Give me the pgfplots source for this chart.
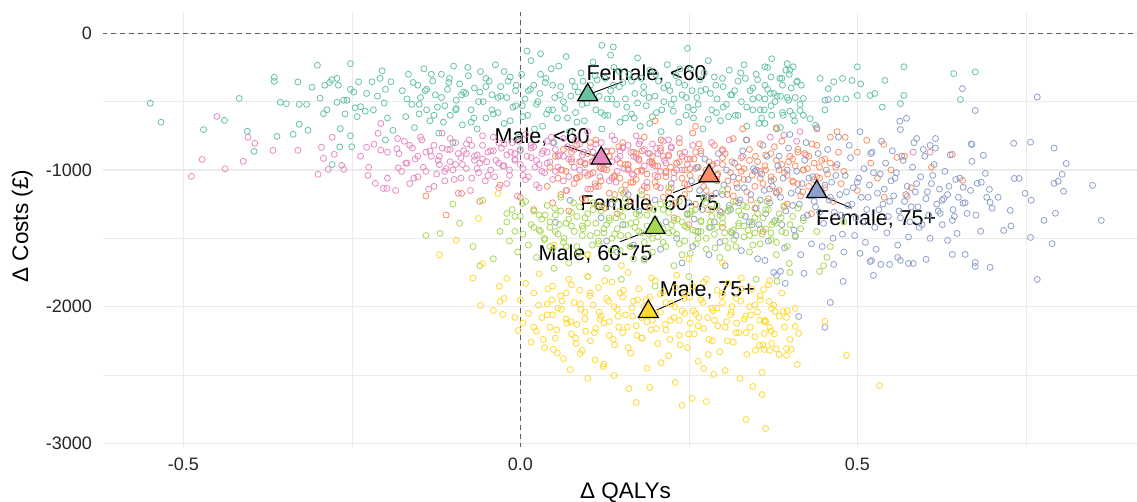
\documentclass[border=0pt]{standalone}
\usepackage{pgfplots}
\pgfplotsset{compat=1.18}
\usepackage{fontspec}
\setmainfont{Liberation Sans}
\definecolor{cA}{RGB}{102,194,165}
\definecolor{cB}{RGB}{252,141,98}
\definecolor{cC}{RGB}{141,160,203}
\definecolor{cD}{RGB}{231,138,195}
\definecolor{cE}{RGB}{166,216,84}
\definecolor{cF}{RGB}{255,217,47}
\definecolor{gridc}{RGB}{235,235,235}
\definecolor{dashc}{RGB}{95,95,95}
\begin{document}
\begin{tikzpicture}
\path[use as bounding box] (-103pt,-55pt) rectangle (1034pt,447pt);
\begin{axis}[at={(0,0)}, anchor=south west, scale only axis, width=1034pt, height=434pt,
 xmin=-0.6191, xmax=0.915, ymin=-3027, ymax=148.5,
 xtick={-0.5,0,0.5}, xticklabels={\mbox{-0.5},\mbox{0.0},\mbox{0.5}},
 ytick={-3000,-2000,-1000,0}, yticklabels={\mbox{-3000},\mbox{-2000},\mbox{-1000},\mbox{0}},
 minor xtick={-0.25,0.25,0.75}, minor ytick={-2500,-1500,-500},
 grid=both, major grid style={color=gridc, line width=1.1pt}, minor grid style={color=gridc, line width=0.55pt},
 axis line style={draw=none}, major tick length=0pt, minor tick length=0pt,
 tick label style={font=\fontsize{18}{20}\selectfont, text=black!85},
 yticklabel style={anchor=east, inner sep=0pt, xshift=-11pt},
 xticklabel style={anchor=north, inner sep=0pt, yshift=-11pt},
 xlabel={Δ QALYs}, ylabel={Δ Costs (£)},
 label style={font=\fontsize{22.5}{25}\selectfont},
 xlabel style={at={(axis description cs:0.5053,-0.0829)}, anchor=north, inner sep=0pt},
 ylabel style={at={(axis description cs:-0.0677,0.509)}, anchor=south, inner sep=0pt},
 pts/.style={only marks, mark=o, mark size=3pt, mark options={line width=0.8pt}},
 mean/.style={only marks, mark=triangle*, mark size=11.5pt, mark options={fill=#1, draw=black, line width=1.2pt}},
 refl/.style={no marks, draw=dashc, line width=0.9pt, dash pattern=on 4.5pt off 4.5pt},
]
% Female, <60
\addplot[pts, color=cA] coordinates {
(-0.549,-512) (-0.533,-651) (-0.470,-705) (-0.417,-477) (-0.405,-717) (-0.395,-864) (-0.439,-637) (-0.365,-322) (-0.365,-352) (-0.356,-505) (-0.347,-515) (-0.361,-754) (-0.337,-739) (-0.328,-520) (-0.317,-520) (-0.330,-356) (-0.328,-666) (-0.315,-710) (-0.309,-395) (-0.301,-234) (-0.297,-475) (-0.290,-380) (-0.292,-588) (-0.287,-560) (-0.283,-360) (-0.280,-340) (-0.272,-330) (-0.270,-380) (-0.272,-505) (-0.267,-698) (-0.268,-832) (-0.279,-960) (-0.262,-490) (-0.260,-590) (-0.257,-490) (-0.252,-222) (-0.252,-410) (-0.252,-750) (-0.247,-430) (-0.245,-545) (-0.242,-610) (-0.240,-355) (-0.237,-537) (-0.230,-570) (-0.228,-440) (-0.220,-355) (-0.218,-560) (-0.212,-460) (-0.208,-330) (-0.205,-275) (-0.202,-510) (-0.200,-410) (-0.197,-620) (-0.192,-355) (-0.189,-710)
(-0.175,-420) (-0.170,-610) (-0.166,-300) (-0.161,-520) (-0.157,-690) (-0.152,-380) (-0.148,-470) (-0.143,-260) (-0.139,-560) (-0.134,-640) (-0.130,-350) (-0.126,-450) (-0.121,-730) (-0.117,-300) (-0.112,-530) (-0.108,-410) (-0.104,-600) (-0.099,-240) (-0.095,-490) (-0.090,-370) (-0.086,-670) (-0.081,-440) (-0.077,-310) (-0.073,-560) (-0.068,-400) (-0.064,-700) (-0.059,-280) (-0.055,-500) (-0.051,-620) (-0.046,-350) (-0.042,-450) (-0.037,-230) (-0.033,-580) (-0.029,-390) (-0.024,-660) (-0.020,-470) (-0.015,-320) (-0.011,-540) (-0.007,-420) (-0.002,-760) (0.002,-300) (0.007,-480) (0.011,-600) (0.016,-200) (0.020,-380) (0.024,-520) (0.029,-440) (0.033,-680) (0.038,-330) (0.042,-560) (0.046,-260) (0.051,-470) (0.055,-620) (0.060,-390) (0.064,-500) (0.068,-170) (0.073,-720) (0.077,-350) (0.082,-580) (0.086,-430) (0.090,-290) (0.095,-640) (0.099,-510) (0.104,-380) (0.108,-210) (0.112,-560) (0.117,-460) (0.121,-700) (0.126,-330) (0.130,-600) (0.134,-420) (0.139,-250) (0.143,-520) (0.148,-650) (0.152,-360) (0.156,-480) (0.161,-300) (0.165,-590) (0.170,-440) (0.174,-180) (0.178,-680) (0.183,-390) (0.187,-530) (0.192,-270) (0.196,-610) (0.200,-460) (0.205,-350) (0.209,-720) (0.213,-500) (0.218,-230) (0.222,-420) (0.227,-570) (0.231,-310) (0.235,-650) (0.240,-450) (0.244,-380) (0.249,-540) (0.253,-260) (0.257,-620) (0.262,-470) (0.266,-340) (0.271,-700) (0.275,-410) (0.279,-200) (0.284,-560) (0.288,-320) (0.292,-480) (0.297,-640) (0.301,-390) (0.306,-520) (0.310,-270) (0.314,-450) (0.319,-600) (0.323,-350) (0.328,-500) (0.332,-230) (0.336,-680) (0.341,-420) (0.345,-560) (0.350,-300) (0.354,-470) (0.358,-620) (0.363,-380) (0.367,-250) (0.372,-530) (0.376,-440) (0.380,-700) (0.385,-330) (0.389,-580) (0.394,-270) (0.398,-490) (0.402,-400) (0.407,-640) (0.411,-350) (0.415,-520)
(-0.168,-480) (-0.159,-360) (-0.150,-590) (-0.141,-420) (-0.132,-300) (-0.123,-540) (-0.114,-650) (-0.105,-330) (-0.096,-560) (-0.087,-450) (-0.078,-250) (-0.069,-620) (-0.060,-430) (-0.051,-330) (-0.042,-560) (-0.033,-470) (-0.024,-280) (-0.015,-640) (-0.006,-380) (0.003,-530) (0.012,-420) (0.021,-700) (0.030,-300) (0.039,-590) (0.048,-380) (0.057,-240) (0.066,-550) (0.075,-460) (0.084,-650) (0.093,-350) (0.102,-440) (0.111,-310) (0.120,-580) (0.129,-480) (0.138,-380) (0.147,-280) (0.156,-620) (0.165,-350) (0.174,-510) (0.183,-440) (0.192,-660) (0.201,-300) (0.210,-560) (0.219,-380) (0.228,-480) (0.237,-260) (0.246,-600) (0.255,-420) (0.264,-520) (0.273,-290) (0.282,-440) (0.291,-580) (0.300,-330) (0.309,-610) (0.318,-420) (0.327,-290) (0.336,-540) (0.345,-400) (0.354,-660) (0.363,-480) (0.372,-320) (0.381,-460) (0.390,-600) (0.399,-300) (0.408,-470) (0.417,-380)
(-0.150,-520) (-0.139,-410) (-0.128,-600) (-0.117,-470) (-0.106,-360) (-0.095,-550) (-0.084,-430) (-0.073,-650) (-0.062,-500) (-0.051,-390) (-0.040,-590) (-0.029,-460) (-0.018,-350) (-0.007,-530) (0.004,-610) (0.015,-410) (0.026,-500) (0.037,-360) (0.048,-560) (0.059,-450) (0.070,-620) (0.081,-390) (0.092,-520) (0.103,-440) (0.114,-340) (0.125,-600) (0.136,-480) (0.147,-390) (0.158,-540) (0.169,-620) (0.180,-330) (0.191,-470) (0.202,-580) (0.213,-400) (0.224,-520) (0.235,-360) (0.246,-470) (0.257,-560) (0.268,-420) (0.279,-630) (0.290,-380) (0.301,-540) (0.312,-450) (0.323,-600) (0.334,-330) (0.345,-480) (0.356,-560) (0.367,-410) (0.378,-500) (0.389,-380) (0.400,-570)
(0.373,-186) (0.396,-222) (0.405,-245) (0.400,-270) (0.388,-330) (0.410,-357) (0.363,-245) (0.352,-340) (0.371,-440) (0.386,-460) (0.396,-470) (0.420,-477) (0.415,-565) (0.405,-600) (0.420,-600) (0.430,-625) (0.438,-673) (0.445,-330) (0.457,-405) (0.465,-355) (0.478,-330) (0.492,-345) (0.500,-245) (0.505,-370) (0.500,-455) (0.483,-480) (0.470,-480) (0.452,-490) (0.452,-560) (0.519,-455) (0.526,-440) (0.537,-540) (0.541,-345) (0.569,-245) (0.569,-455) (0.564,-515) (0.643,-295) (0.675,-283) (0.653,-485) (0.362,-560) (0.373,-600) (0.363,-660) (0.386,-690)
(0.121,-88) (0.138,-100) (0.248,-110) (0.134,-160) (-0.250,-830) (-0.200,-780) (0.000,-850) (0.050,-800) (-0.100,-800) (0.010,-130) (0.030,-150)
};
% Male, <60
\addplot[pts, color=cD] coordinates {
(-0.450,-608) (-0.472,-923) (-0.488,-1047) (-0.438,-991) (-0.411,-937) (-0.404,-761) (-0.394,-805) (-0.367,-857) (-0.330,-857) (-0.300,-1032) (-0.295,-834) (-0.292,-915) (-0.279,-761) (-0.276,-886) (-0.285,-996) (-0.265,-966) (-0.262,-996) (-0.237,-900) (-0.228,-834) (-0.225,-980) (-0.226,-1040) (-0.215,-1098) (-0.217,-812) (-0.211,-732) (-0.207,-660) (-0.207,-855) (-0.203,-1135) (-0.198,-1135) (-0.197,-870) (-0.197,-1060) (-0.185,-1150) (-0.183,-845) (-0.181,-985) (-0.182,-770)
(-0.180,-880) (-0.176,-1010) (-0.172,-790) (-0.168,-950) (-0.164,-1100) (-0.160,-840) (-0.156,-920) (-0.152,-1050) (-0.148,-760) (-0.144,-980) (-0.140,-870) (-0.136,-1140) (-0.132,-900) (-0.128,-820) (-0.124,-1030) (-0.120,-960) (-0.116,-730) (-0.112,-1080) (-0.108,-850) (-0.104,-940) (-0.100,-1000) (-0.096,-800) (-0.092,-1170) (-0.088,-910) (-0.084,-860) (-0.080,-990) (-0.076,-780) (-0.072,-1060) (-0.068,-930) (-0.064,-890) (-0.060,-950) (-0.056,-820) (-0.052,-1080) (-0.048,-870) (-0.044,-1000) (-0.040,-760) (-0.036,-930) (-0.032,-1130) (-0.028,-840) (-0.024,-970) (-0.020,-890) (-0.016,-1040) (-0.012,-800) (-0.008,-920) (-0.004,-1190) (0.000,-860) (0.004,-990) (0.008,-740) (0.012,-1050) (0.016,-910) (0.020,-830) (0.024,-1110) (0.028,-960) (0.032,-880) (0.036,-1020) (0.040,-790) (0.044,-940) (0.048,-1070) (0.052,-850) (0.056,-900) (0.060,-1000) (0.064,-770) (0.068,-1150) (0.072,-920) (0.076,-840) (0.080,-980) (0.084,-1060) (0.088,-810) (0.092,-890) (0.096,-950) (0.100,-720) (0.104,-1030) (0.108,-870) (0.112,-1120) (0.116,-930) (0.120,-800) (0.124,-990) (0.128,-860) (0.132,-1080) (0.136,-940) (0.140,-780) (0.144,-1010) (0.148,-900) (0.152,-830) (0.156,-1160) (0.160,-960) (0.164,-870) (0.168,-1040) (0.172,-750) (0.176,-920) (0.180,-1000) (0.184,-850) (0.188,-1090) (0.192,-940) (0.196,-810) (0.200,-970) (0.204,-880) (0.208,-1130) (0.212,-790) (0.216,-1020) (0.220,-900) (0.224,-840) (0.228,-1060) (0.232,-950) (0.236,-770) (0.240,-1000) (0.244,-870) (0.248,-1110) (0.252,-920) (0.256,-820) (0.260,-990) (0.268,-880) (0.276,-1040) (0.284,-800) (0.292,-950) (0.300,-860)
(-0.170,-950) (-0.164,-820) (-0.158,-1060) (-0.152,-900) (-0.146,-780) (-0.140,-1010) (-0.134,-860) (-0.128,-1120) (-0.122,-930) (-0.116,-840) (-0.110,-990) (-0.104,-770) (-0.098,-1070) (-0.092,-880) (-0.086,-960) (-0.080,-810) (-0.074,-1150) (-0.068,-900) (-0.062,-1020) (-0.056,-750) (-0.050,-940) (-0.044,-860) (-0.038,-1050) (-0.032,-800) (-0.026,-970) (-0.020,-1100) (-0.014,-870) (-0.008,-930) (-0.002,-790) (0.004,-1040) (0.010,-900) (0.016,-820) (0.022,-980) (0.028,-1130) (0.034,-860) (0.040,-950) (0.046,-760) (0.052,-1010) (0.058,-890) (0.064,-1080) (0.070,-830) (0.076,-920) (0.082,-780) (0.088,-1000) (0.094,-870) (0.100,-1140) (0.106,-940) (0.112,-810) (0.118,-1050) (0.124,-900) (0.130,-960) (0.136,-750) (0.142,-1090) (0.148,-860) (0.154,-990) (0.160,-820) (0.166,-1030) (0.172,-910) (0.178,-790) (0.184,-1120) (0.190,-880) (0.196,-960) (0.202,-840) (0.208,-1010) (0.214,-930) (0.220,-780)
(-0.120,-900) (-0.112,-1010) (-0.104,-850) (-0.096,-960) (-0.088,-1060) (-0.080,-880) (-0.072,-820) (-0.064,-990) (-0.056,-920) (-0.048,-1040) (-0.040,-860) (-0.032,-950) (-0.024,-810) (-0.016,-1000) (-0.008,-880) (0.000,-960) (0.008,-1070) (0.016,-840) (0.024,-930) (0.032,-1010) (0.040,-870) (0.048,-800) (0.056,-980) (0.064,-900) (0.072,-1050) (0.080,-850) (0.088,-940) (0.096,-1020) (0.104,-830) (0.112,-900) (0.120,-990) (0.128,-870) (0.136,-1060) (0.144,-920) (0.152,-840) (0.160,-1000) (0.168,-900) (0.176,-810) (0.184,-970) (0.192,-880) (0.200,-1040) (0.208,-860) (0.216,-950) (0.224,-830) (0.232,-1000) (0.240,-900) (0.248,-960)
(0.371,-760) (0.391,-745) (0.415,-720) (0.410,-790) (0.422,-880) (0.583,-870) (0.608,-870) (0.330,-900) (0.350,-1000) (0.310,-780)
};
% Female, 60-75
\addplot[pts, color=cB] coordinates {
(0.040,-1120) (0.044,-980) (0.048,-1240) (0.052,-900) (0.056,-1060) (0.060,-1180) (0.064,-850) (0.068,-1010) (0.072,-1300) (0.076,-940) (0.080,-1100) (0.084,-820) (0.088,-1050) (0.092,-1210) (0.096,-960) (0.100,-880) (0.104,-1140) (0.108,-1020) (0.112,-780) (0.116,-1260) (0.120,-1080) (0.124,-910) (0.128,-1000) (0.132,-1170) (0.136,-860) (0.140,-1040) (0.144,-1320) (0.148,-950) (0.152,-800) (0.156,-1110) (0.160,-990) (0.164,-1230) (0.168,-870) (0.172,-1070) (0.176,-930) (0.180,-1150) (0.184,-760) (0.188,-1030) (0.192,-1270) (0.196,-900) (0.200,-1090) (0.204,-970) (0.208,-840) (0.212,-1200) (0.216,-1010) (0.220,-890) (0.224,-1130) (0.228,-1350) (0.232,-950) (0.236,-800) (0.240,-1060) (0.244,-1180) (0.248,-920) (0.252,-1040) (0.256,-730) (0.260,-1250) (0.264,-980) (0.268,-860) (0.272,-1120) (0.276,-1000) (0.280,-940) (0.284,-1190) (0.288,-820) (0.292,-1080) (0.296,-1300) (0.300,-960) (0.304,-880) (0.308,-1140) (0.312,-1020) (0.316,-770) (0.320,-1230) (0.324,-1060) (0.328,-910) (0.332,-990) (0.336,-1160) (0.340,-850) (0.344,-1040) (0.348,-1280) (0.352,-940) (0.356,-810) (0.360,-1100) (0.364,-1000) (0.368,-1210) (0.372,-880) (0.376,-1070) (0.380,-930) (0.384,-1150) (0.388,-790) (0.392,-1020) (0.396,-1250) (0.400,-900) (0.404,-1080) (0.408,-970) (0.412,-850) (0.416,-1190) (0.420,-1000) (0.424,-890) (0.428,-1120) (0.432,-1320) (0.436,-950) (0.440,-820) (0.444,-1060) (0.448,-1170) (0.452,-920) (0.456,-1030) (0.460,-760) (0.464,-1230) (0.468,-980) (0.472,-870) (0.476,-1100) (0.480,-1010)
(0.062,-1000) (0.069,-1150) (0.076,-870) (0.083,-1060) (0.090,-940) (0.097,-1220) (0.104,-800) (0.111,-1100) (0.118,-980) (0.125,-1280) (0.132,-900) (0.139,-1050) (0.146,-830) (0.153,-1170) (0.160,-960) (0.167,-1090) (0.174,-1010) (0.181,-860) (0.188,-1200) (0.195,-940) (0.202,-1120) (0.209,-780) (0.216,-1050) (0.223,-980) (0.230,-1240) (0.237,-880) (0.244,-1000) (0.251,-1140) (0.258,-920) (0.265,-810) (0.272,-1070) (0.279,-1290) (0.286,-960) (0.293,-1030) (0.300,-850) (0.307,-1180) (0.314,-940) (0.321,-1100) (0.328,-1010) (0.335,-780) (0.342,-1220) (0.349,-900) (0.356,-1060) (0.363,-970) (0.370,-1140) (0.377,-830) (0.384,-1000) (0.391,-1270) (0.398,-940) (0.405,-1090) (0.412,-870) (0.419,-1160) (0.426,-990) (0.433,-810) (0.440,-1050) (0.447,-930)
(0.100,-1040) (0.108,-940) (0.116,-1120) (0.124,-990) (0.132,-900) (0.140,-1180) (0.148,-1060) (0.156,-960) (0.164,-1090) (0.172,-880) (0.180,-1010) (0.188,-1130) (0.196,-950) (0.204,-1050) (0.212,-900) (0.220,-1160) (0.228,-1020) (0.236,-940) (0.244,-1100) (0.252,-990) (0.260,-870) (0.268,-1060) (0.276,-1150) (0.284,-970) (0.292,-1040) (0.300,-910) (0.308,-1080) (0.316,-1190) (0.324,-980) (0.332,-1070) (0.340,-930) (0.348,-1120) (0.356,-1010) (0.364,-890) (0.372,-1050) (0.380,-1160) (0.388,-960) (0.396,-1040) (0.404,-920) (0.412,-1100) (0.420,-1000) (0.428,-900) (0.436,-1070) (0.444,-980) (0.452,-1130) (0.460,-950)
(-0.087,-1172) (-0.060,-1230) (-0.030,-1110) (-0.110,-1330) (0.000,-1200) (0.020,-1290) (-0.140,-1190) (0.200,-640) (0.260,-680) (0.330,-700) (0.380,-690) (0.500,-870) (0.520,-950) (0.530,-1060) (0.550,-1000) (0.570,-900) (0.610,-980) (0.500,-1150) (0.540,-1200) (0.580,-1130) (0.470,-720) (0.440,-700) (0.300,-1420) (0.360,-1450) (0.250,-1400) (0.514,-783) (0.539,-813) (0.482,-761) (0.559,-908) (0.641,-886) (0.574,-1193) (0.656,-1076)
};
% Female, 75+
\addplot[pts, color=cC] coordinates {
(0.250,-1240) (0.254,-1080) (0.258,-1360) (0.262,-980) (0.266,-1150) (0.270,-1290) (0.274,-920) (0.278,-1200) (0.282,-1420) (0.286,-1050) (0.290,-1170) (0.294,-880) (0.298,-1310) (0.302,-1110) (0.306,-1000) (0.310,-1260) (0.314,-1460) (0.318,-950) (0.322,-1130) (0.326,-1220) (0.330,-860) (0.334,-1340) (0.338,-1070) (0.342,-1180) (0.346,-990) (0.350,-1280) (0.354,-1400) (0.358,-1030) (0.362,-1150) (0.366,-900) (0.370,-1240) (0.374,-1120) (0.378,-1370) (0.382,-970) (0.386,-1200) (0.390,-1060) (0.394,-1300) (0.398,-840) (0.402,-1170) (0.406,-1440) (0.410,-1010) (0.414,-1250) (0.418,-1100) (0.422,-930) (0.426,-1330) (0.430,-1190) (0.434,-1050) (0.438,-1270) (0.442,-880) (0.446,-1150) (0.450,-1390) (0.454,-1000) (0.458,-1220) (0.462,-1090) (0.466,-1310) (0.470,-960) (0.474,-1180) (0.478,-1470) (0.482,-1040) (0.486,-1260) (0.490,-910) (0.494,-1130) (0.498,-1350) (0.502,-1060) (0.506,-1200) (0.510,-990) (0.514,-1290) (0.518,-1110) (0.522,-870) (0.526,-1420) (0.530,-1170) (0.534,-1030) (0.538,-1250) (0.542,-950) (0.546,-1340) (0.550,-1080) (0.554,-1190) (0.558,-1020) (0.562,-1300) (0.566,-900) (0.570,-1230) (0.574,-1120) (0.578,-1380) (0.582,-980) (0.586,-1160) (0.590,-1270) (0.594,-1050) (0.598,-850) (0.602,-1210) (0.606,-1330) (0.610,-1100) (0.614,-960) (0.618,-1250) (0.622,-1140) (0.626,-1400) (0.630,-1010) (0.634,-1180) (0.638,-890) (0.642,-1290) (0.646,-1070) (0.650,-1200)
(0.120,-1350) (0.128,-1520) (0.136,-1250) (0.144,-1600) (0.152,-1400) (0.160,-1180) (0.168,-1550) (0.176,-1300) (0.184,-1650) (0.192,-1450) (0.200,-1220) (0.208,-1580) (0.216,-1380) (0.224,-1100) (0.232,-1500) (0.240,-1680) (0.248,-1320) (0.256,-1560) (0.264,-1450) (0.272,-1200) (0.280,-1620) (0.288,-1380) (0.296,-1530) (0.304,-1700) (0.312,-1290) (0.320,-1480) (0.328,-1590) (0.336,-780) (0.344,-1400) (0.352,-1650) (0.360,-820) (0.368,-1520) (0.376,-1750) (0.384,-900) (0.392,-1570) (0.400,-740) (0.408,-1480) (0.416,-1620) (0.424,-800) (0.432,-1540) (0.440,-690) (0.448,-1560) (0.456,-850) (0.464,-1500) (0.472,-760) (0.480,-1600) (0.488,-820) (0.496,-1480) (0.504,-720) (0.512,-1530) (0.520,-880) (0.528,-1580) (0.536,-790) (0.544,-1460) (0.552,-860) (0.560,-1550) (0.568,-930) (0.576,-1490) (0.584,-800) (0.592,-1420) (0.600,-900) (0.608,-1500) (0.616,-840)
(0.300,-1180) (0.308,-1300) (0.316,-1050) (0.324,-1240) (0.332,-1130) (0.340,-1380) (0.348,-1010) (0.356,-1220) (0.364,-1320) (0.372,-1080) (0.380,-1170) (0.388,-1400) (0.396,-1000) (0.404,-1260) (0.412,-1150) (0.420,-1350) (0.428,-1060) (0.436,-1230) (0.444,-1310) (0.452,-1110) (0.460,-1200) (0.468,-1040) (0.476,-1330) (0.484,-1160) (0.492,-1250) (0.500,-1090) (0.508,-1380) (0.516,-1200) (0.524,-1020) (0.532,-1290) (0.540,-1140) (0.548,-1230) (0.556,-1060) (0.564,-1350) (0.572,-1180) (0.580,-1270) (0.588,-1100) (0.596,-1400) (0.604,-1160) (0.612,-1040) (0.620,-1300) (0.628,-1210) (0.636,-1120) (0.644,-1340) (0.652,-1060) (0.660,-1240) (0.668,-1150) (0.676,-1330) (0.684,-1090) (0.692,-1200) (0.700,-1280)
(0.732,-805) (0.757,-797) (0.792,-840) (0.810,-953) (0.804,-1032) (0.798,-1083) (0.792,-1098) (0.806,-1156) (0.849,-1113) (0.862,-1369) (0.794,-1317) (0.777,-1369) (0.757,-1494) (0.789,-1540) (0.749,-1171) (0.758,-1222) (0.740,-1062) (0.733,-1062) (0.709,-1200) (0.697,-1237) (0.690,-1025) (0.687,-893) (0.670,-813) (0.670,-937) (0.678,-1098) (0.696,-1142) (0.727,-1296) (0.717,-1442) (0.728,-1410) (0.683,-1449) (0.657,-1127) (0.657,-1244) (0.663,-1318) (0.648,-1464) (0.634,-1515) (0.641,-1369) (0.623,-1318) (0.626,-1222)
(0.767,-1801) (0.697,-1713) (0.675,-1706) (0.675,-1677) (0.660,-1618) (0.641,-1618) (0.602,-1654) (0.583,-1684) (0.576,-1684) (0.564,-1662) (0.560,-1640) (0.548,-1691) (0.535,-1691) (0.524,-1772) (0.521,-1662) (0.519,-1670) (0.504,-1610) (0.479,-1815) (0.465,-1691) (0.460,-1969) (0.452,-2152) (0.413,-2072) (0.421,-1757) (0.393,-1830) (0.386,-1742) (0.380,-1772) (0.363,-1662)
(0.457,-485) (0.563,-643) (0.573,-622) (0.564,-705) (0.656,-405) (0.675,-565) (0.767,-466) (0.588,-770) (0.608,-820) (0.616,-770) (0.669,-810) (0.052,-1383) (0.074,-1222)
};
% Male, 60-75
\addplot[pts, color=cE] coordinates {
(-0.020,-1380) (-0.016,-1520) (-0.012,-1290) (-0.008,-1450) (-0.004,-1600) (0.000,-1340) (0.004,-1470) (0.008,-1230) (0.012,-1550) (0.016,-1400) (0.020,-1300) (0.024,-1640) (0.028,-1440) (0.032,-1360) (0.036,-1510) (0.040,-1260) (0.044,-1420) (0.048,-1580) (0.052,-1330) (0.056,-1470) (0.060,-1200) (0.064,-1530) (0.068,-1390) (0.072,-1680) (0.076,-1310) (0.080,-1450) (0.084,-1560) (0.088,-1270) (0.092,-1410) (0.096,-1350) (0.100,-1620) (0.104,-1480) (0.108,-1240) (0.112,-1390) (0.116,-1540) (0.120,-1300) (0.124,-1460) (0.128,-1720) (0.132,-1370) (0.136,-1500) (0.140,-1220) (0.144,-1430) (0.148,-1590) (0.152,-1340) (0.156,-1270) (0.160,-1480) (0.164,-1390) (0.168,-1650) (0.172,-1320) (0.176,-1450) (0.180,-1180) (0.184,-1530) (0.188,-1410) (0.192,-1280) (0.196,-1600) (0.200,-1360) (0.204,-1490) (0.208,-1250) (0.212,-1430) (0.216,-1560) (0.220,-1310) (0.224,-1400) (0.228,-1700) (0.232,-1470) (0.236,-1230) (0.240,-1380) (0.244,-1520) (0.248,-1330) (0.252,-1610) (0.256,-1440) (0.260,-1290) (0.264,-1500) (0.268,-1370) (0.272,-1210) (0.276,-1580) (0.280,-1420) (0.284,-1340) (0.288,-1470) (0.292,-1260) (0.296,-1640) (0.300,-1390) (0.304,-1520) (0.308,-1300) (0.312,-1450) (0.316,-1230) (0.320,-1560) (0.324,-1410) (0.328,-1330) (0.332,-1490) (0.336,-1270) (0.340,-1600) (0.344,-1380) (0.348,-1460) (0.352,-1240) (0.356,-1540) (0.360,-1350) (0.364,-1430) (0.368,-1290) (0.372,-1510) (0.376,-1380) (0.380,-1620) (0.384,-1320) (0.388,-1450) (0.392,-1260) (0.396,-1560) (0.400,-1400) (0.404,-1340) (0.408,-1490) (0.412,-1280) (0.416,-1430) (0.420,-1370)
(0.030,-1450) (0.037,-1330) (0.044,-1560) (0.051,-1280) (0.058,-1400) (0.065,-1500) (0.072,-1360) (0.079,-1240) (0.086,-1610) (0.093,-1430) (0.100,-1320) (0.107,-1550) (0.114,-1460) (0.121,-1260) (0.128,-1400) (0.135,-1590) (0.142,-1350) (0.149,-1480) (0.156,-1210) (0.163,-1560) (0.170,-1420) (0.177,-1330) (0.184,-1660) (0.191,-1470) (0.198,-1290) (0.205,-1400) (0.212,-1530) (0.219,-1250) (0.226,-1450) (0.233,-1360) (0.240,-1620) (0.247,-1420) (0.254,-1300) (0.261,-1540) (0.268,-1450) (0.275,-1240) (0.282,-1380) (0.289,-1570) (0.296,-1330) (0.303,-1460) (0.310,-1280) (0.317,-1510) (0.324,-1390) (0.331,-1260) (0.338,-1440) (0.345,-1550) (0.352,-1320) (0.359,-1470) (0.366,-1230) (0.373,-1400) (0.380,-1530) (0.387,-1350) (0.394,-1460)
(0.020,-1420) (0.028,-1330) (0.036,-1500) (0.044,-1380) (0.052,-1450) (0.060,-1300) (0.068,-1560) (0.076,-1410) (0.084,-1340) (0.092,-1480) (0.100,-1390) (0.108,-1290) (0.116,-1520) (0.124,-1430) (0.132,-1350) (0.140,-1470) (0.148,-1300) (0.156,-1400) (0.164,-1560) (0.172,-1380) (0.180,-1460) (0.188,-1330) (0.196,-1500) (0.204,-1420) (0.212,-1290) (0.220,-1460) (0.228,-1370) (0.236,-1540) (0.244,-1410) (0.252,-1320) (0.260,-1450) (0.268,-1380) (0.276,-1500) (0.284,-1290) (0.292,-1420) (0.300,-1350) (0.308,-1570) (0.316,-1440) (0.324,-1300) (0.332,-1410) (0.340,-1480) (0.348,-1350) (0.356,-1430) (0.364,-1290) (0.372,-1460) (0.380,-1390)
(-0.020,-1318) (-0.008,-1340) (0.003,-1245) (-0.119,-1464) (-0.056,-1222) (-0.140,-1480) (-0.090,-1390) (-0.070,-1560) (-0.040,-1650) (-0.030,-1450) (-0.100,-1250) (-0.060,-1700) (0.440,-1450) (0.460,-1560) (0.480,-1380) (0.450,-1700) (0.400,-1750) (0.350,-1800) (0.150,-1800) (0.100,-1780) (0.050,-1720) (0.250,-1780) (0.200,-1850) (0.300,-1150) (0.150,-1150) (0.220,-1130) (0.399,-1684) (0.444,-1742) (0.381,-1815) (0.455,-1640)
};
% Male, 75+
\addplot[pts, color=cF] coordinates {
(0.000,-1950) (0.004,-2120) (0.008,-1830) (0.012,-2050) (0.016,-2260) (0.020,-1900) (0.024,-2180) (0.028,-1760) (0.032,-2080) (0.036,-2300) (0.040,-1980) (0.044,-2150) (0.048,-1850) (0.052,-2230) (0.056,-2010) (0.060,-1920) (0.064,-2380) (0.068,-2090) (0.072,-1800) (0.076,-2200) (0.080,-1970) (0.084,-2130) (0.088,-1880) (0.092,-2320) (0.096,-2040) (0.100,-1780) (0.104,-2250) (0.108,-1990) (0.112,-2160) (0.116,-1860) (0.120,-2070) (0.124,-2420) (0.128,-1940) (0.132,-2110) (0.136,-1820) (0.140,-2280) (0.144,-2020) (0.148,-1900) (0.152,-2190) (0.156,-2060) (0.160,-1750) (0.164,-2340) (0.168,-1960) (0.172,-2140) (0.176,-1870) (0.180,-2230) (0.184,-2000) (0.188,-2450) (0.192,-1930) (0.196,-2100) (0.200,-1810) (0.204,-2270) (0.208,-2040) (0.212,-1890) (0.216,-2170) (0.220,-2360) (0.224,-1980) (0.228,-2080) (0.232,-1770) (0.236,-2210) (0.240,-2030) (0.244,-1910) (0.248,-2300) (0.252,-2120) (0.256,-1850) (0.260,-2050) (0.264,-2400) (0.268,-1950) (0.272,-2160) (0.276,-1800) (0.280,-2240) (0.284,-2010) (0.288,-2100) (0.292,-1880) (0.296,-2330) (0.300,-1970) (0.304,-2150) (0.308,-1830) (0.312,-2060) (0.316,-2260) (0.320,-1940) (0.324,-2190) (0.328,-1790) (0.332,-2090) (0.336,-2350) (0.340,-2000) (0.344,-1870) (0.348,-2220) (0.352,-2040) (0.356,-1920) (0.360,-2280) (0.364,-2110) (0.368,-1840) (0.372,-2180) (0.376,-1990) (0.380,-2310) (0.384,-2070) (0.388,-1900) (0.392,-2150) (0.396,-2030) (0.400,-2240)
(0.020,-2150) (0.027,-1990) (0.034,-2240) (0.041,-1870) (0.048,-2060) (0.055,-2340) (0.062,-1960) (0.069,-2120) (0.076,-1840) (0.083,-2270) (0.090,-2020) (0.097,-2180) (0.104,-1900) (0.111,-2390) (0.118,-2090) (0.125,-1810) (0.132,-2210) (0.139,-2000) (0.146,-2150) (0.153,-1880) (0.160,-2300) (0.167,-2070) (0.174,-1950) (0.181,-2230) (0.188,-2110) (0.195,-1790) (0.202,-2160) (0.209,-2410) (0.216,-1970) (0.223,-2100) (0.230,-1860) (0.237,-2280) (0.244,-2050) (0.251,-1930) (0.258,-2200) (0.265,-2080) (0.272,-1820) (0.279,-2350) (0.286,-2030) (0.293,-2140) (0.300,-1900) (0.307,-2250) (0.314,-2000) (0.321,-2120) (0.328,-1870) (0.335,-2190) (0.342,-2060) (0.349,-2320) (0.356,-1950) (0.363,-2100) (0.370,-1810) (0.377,-2200)
(0.040,-2060) (0.047,-1950) (0.054,-2170) (0.061,-2020) (0.068,-1900) (0.075,-2110) (0.082,-2230) (0.089,-1980) (0.096,-2090) (0.103,-1920) (0.110,-2190) (0.117,-2040) (0.124,-2120) (0.131,-1960) (0.138,-2240) (0.145,-2070) (0.152,-1930) (0.159,-2150) (0.166,-2010) (0.173,-2210) (0.180,-2080) (0.187,-1950) (0.194,-2170) (0.201,-2050) (0.208,-1910) (0.215,-2130) (0.222,-2240) (0.229,-2000) (0.236,-2100) (0.243,-1940) (0.250,-2200) (0.257,-2030) (0.264,-2140) (0.271,-1970) (0.278,-2080) (0.285,-2250) (0.292,-2010) (0.299,-1920) (0.306,-2110) (0.313,-2040) (0.320,-2190) (0.327,-1960) (0.334,-2070) (0.341,-2150) (0.348,-1990) (0.355,-2100)
(-0.059,-1991) (-0.040,-2028) (-0.026,-2057) (-0.008,-2079) (-0.003,-2174) (-0.030,-1962) (-0.024,-1940) (-0.031,-1852) (-0.020,-1794) (-0.056,-1684) (0.049,-2313) (0.074,-2460) (0.089,-2343) (0.100,-2525) (0.123,-2438) (0.139,-2504) (0.161,-2599) (0.172,-2701) (0.192,-2591) (0.230,-2555) (0.240,-2723) (0.255,-2672) (0.276,-2694) (0.335,-2826) (0.364,-2892) (0.359,-2643) (0.345,-2584) (0.326,-2525) (0.287,-2496) (0.304,-2467) (0.272,-2452)
(0.484,-2357) (0.533,-2577) (0.411,-2423) (0.452,-2108) (0.359,-2482) (0.402,-2313) (0.395,-2306) (0.395,-2357) (0.384,-2350) (0.408,-2145) (0.408,-2013) (0.413,-2196) (0.395,-2079) (0.390,-2035) (0.378,-2035) (0.373,-2013) (0.369,-1962) (0.361,-1874) (0.362,-2108) (0.370,-2152) (0.362,-2196) (0.373,-2269) (0.362,-2313) (0.370,-2320) (0.355,-2284)
(0.050,-1550) (0.100,-1620) (0.250,-1650) (0.300,-1680) (0.150,-1700) (-0.033,-1172) (-0.062,-1355) (-0.095,-1515) (-0.120,-1620) (-0.070,-1790)
};
% reference lines
\addplot[refl] coordinates {(-0.7,0) (1,0)};
\addplot[refl] coordinates {(0,-3100) (0,200)};
% label connectors
\draw[black, line width=0.9pt] (axis cs:0.108,-435) -- (axis cs:0.1519,-354);
\draw[black, line width=0.9pt] (axis cs:0.0663,-822) -- (axis cs:0.1108,-898);
\draw[black, line width=0.9pt] (axis cs:0.227,-1166) -- (axis cs:0.269,-1086);
\draw[black, line width=0.9pt] (axis cs:0.1479,-1525) -- (axis cs:0.190,-1447);
\draw[black, line width=0.9pt] (axis cs:0.2024,-2025) -- (axis cs:0.2418,-1939);
\draw[black, line width=0.9pt] (axis cs:0.4546,-1203) -- (axis cs:0.4917,-1280);
% group means
\addplot[mean=cA] coordinates {(0.100,-451)};
\addplot[mean=cB] coordinates {(0.280,-1044)};
\addplot[mean=cC] coordinates {(0.4398,-1159)};
\addplot[mean=cD] coordinates {(0.120,-915)};
\addplot[mean=cE] coordinates {(0.1999,-1422)};
\addplot[mean=cF] coordinates {(0.190,-2037)};
% labels
\begin{scope}[every node/.style={font=\fontsize{21.5}{24}\selectfont, anchor=base, inner sep=0pt, text=black}]
\node at (axis cs:0.1875,-342) {Female, <60};
\node at (axis cs:0.0325,-810) {Male, <60};
\node at (axis cs:0.192,-1293) {Female, 60-75};
\node at (axis cs:0.1116,-1664) {Male, 60-75};
\node at (axis cs:0.2777,-1927) {Male, 75+};
\node at (axis cs:0.528,-1410) {Female, 75+};
\end{scope}
\end{axis}
\end{tikzpicture}
\end{document}
